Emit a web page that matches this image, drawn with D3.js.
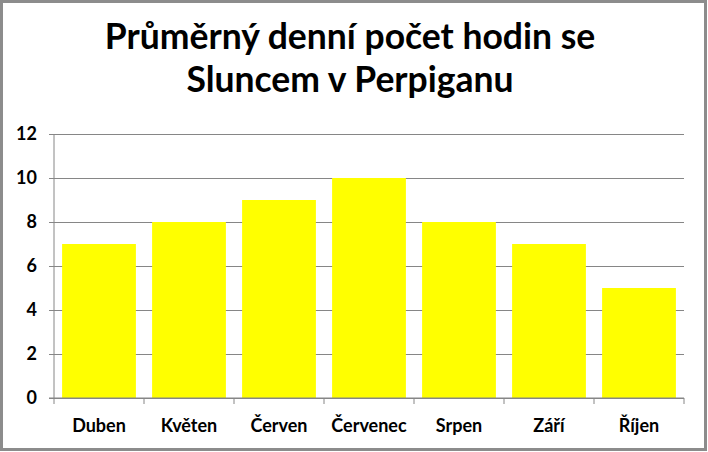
<!DOCTYPE html>
<html>
<head>
<meta charset="utf-8">
<script src="https://cdn.jsdelivr.net/npm/d3@7"></script>
<style>
    body { margin: 0; background: #fff; }
    text { font-family: Lato, "Open Sans", sans-serif; font-weight: bold; fill: #000; }
</style>
</head>
<body>
<div id="chart"></div>
<script>
// Data
const months = ["Duben", "Květen", "Červen", "Červenec", "Srpen", "Září", "Říjen"];
const sunHours = [7, 8, 9, 10, 8, 7, 5];
const yTicks = [0, 2, 4, 6, 8, 10, 12];
const titleLines = ["Průměrný denní počet hodin se", "Sluncem v Perpiganu"];

const W = 708, H = 452;
const margin = {top: 134, right: 24, bottom: 54, left: 54};
const width = W - margin.left - margin.right;
const height = H - margin.top - margin.bottom;

const svg = d3.select("#chart").append("svg")
    .attr("width", W)
    .attr("height", H);

// outer frame
svg.append("rect")
    .attr("x", 1.5).attr("y", 1.5)
    .attr("width", W - 4).attr("height", H - 4)
    .attr("fill", "#fff")
    .attr("stroke", "#8c8c8c")
    .attr("stroke-width", 3);

// title
svg.selectAll(".title")
    .data(titleLines)
    .enter().append("text")
    .attr("class", "title")
    .attr("x", 350)
    .attr("y", (d, i) => 49 + i * 43)
    .attr("text-anchor", "middle")
    .attr("font-size", "35.5px")
    .text(d => d);

const g = svg.append("g")
    .attr("transform", "translate(" + margin.left + "," + margin.top + ")");

const x = d3.scaleBand()
    .domain(months)
    .range([0, width])
    .paddingInner(0.18)
    .paddingOuter(0.09);

const y = d3.scaleLinear()
    .domain([0, 12])
    .range([height, 0]);

// gridlines
g.append("g")
    .attr("class", "grid")
    .call(d3.axisLeft(y).tickValues(yTicks).tickSize(-width).tickFormat(""))
    .call(a => a.select(".domain").remove())
    .call(a => a.selectAll("line").attr("stroke", "#868686").attr("stroke-width", 1));

// bars
g.selectAll(".bar")
    .data(sunHours)
    .enter().append("rect")
    .attr("class", "bar")
    .attr("x", (d, i) => x(months[i]))
    .attr("y", d => y(d))
    .attr("width", x.bandwidth())
    .attr("height", d => height - y(d))
    .attr("fill", "#ffff00");

// y axis
const yAxis = g.append("g")
    .call(d3.axisLeft(y).tickValues(yTicks).tickSize(5).tickPadding(12));
yAxis.select(".domain").attr("stroke", "#868686").attr("d", "M0,0V" + height);
yAxis.selectAll("line").attr("stroke", "#868686");
yAxis.selectAll("text").attr("font-size", "18px").attr("font-family", "Lato, sans-serif");

// x axis with ticks between categories
const xAxis = g.append("g")
    .attr("transform", "translate(0," + height + ")");
xAxis.append("line")
    .attr("x1", -5).attr("x2", width)
    .attr("stroke", "#868686");
xAxis.selectAll(".sep")
    .data(d3.range(months.length + 1))
    .enter().append("line")
    .attr("class", "sep")
    .attr("x1", i => i * width / months.length)
    .attr("x2", i => i * width / months.length)
    .attr("y1", 0).attr("y2", 6)
    .attr("stroke", "#868686");
xAxis.selectAll(".lbl")
    .data(months)
    .enter().append("text")
    .attr("class", "lbl")
    .attr("x", d => x(d) + x.bandwidth() / 2)
    .attr("y", 34)
    .attr("text-anchor", "middle")
    .attr("font-size", "18px")
    .text(d => d);
</script>
</body>
</html>
